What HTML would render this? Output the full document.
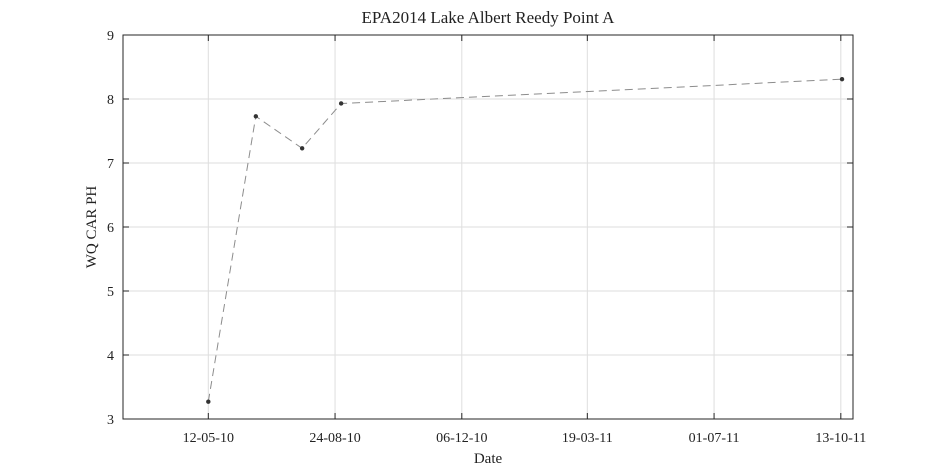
<!DOCTYPE html>
<html><head><meta charset="utf-8">
<style>
html,body{margin:0;padding:0;background:#fff;}
svg{display:block;font-family:"Liberation Serif","DejaVu Serif",serif;}
</style></head>
<body>
<svg id="chart" width="945" height="472" viewBox="0 0 945 472">
  <text x="488" y="23" text-anchor="middle" font-size="17" fill="#222">EPA2014 Lake Albert Reedy Point A</text>
  <text x="0" y="0" transform="translate(96,227) rotate(-90)" text-anchor="middle" font-size="15" fill="#222">WQ CAR PH</text>
  <text x="488" y="463" text-anchor="middle" font-size="15" fill="#222">Date</text>
  <g id="grid"></g>
  <g id="ticks"></g>
  <g id="series"></g>
  <rect x="123" y="35" width="730" height="384" fill="none" stroke="#262626" stroke-width="1"/>
</svg>
<script>
const dates = ["2010-05-12","2010-06-20","2010-07-28","2010-08-29","2011-10-14"];
const phValues = [3.27, 7.73, 7.23, 7.93, 8.31];
const yTicks = [3,4,5,6,7,8,9];
const xTickDates = ["2010-05-12","2010-08-24","2010-12-06","2011-03-19","2011-07-01","2011-10-13"];
const xTickLabels = ["12-05-10","24-08-10","06-12-10","19-03-11","01-07-11","13-10-11"];

const L=123,R=853,T=35,B=419;
const xMin=Date.parse("2010-03-03"), xMax=Date.parse("2011-10-23");
const yMin=3,yMax=9;
const NS="http://www.w3.org/2000/svg";
function xs(d){return L+(Date.parse(d)-xMin)/(xMax-xMin)*(R-L);}
function ys(v){return B-(v-yMin)/(yMax-yMin)*(B-T);}
function mk(tag,attrs,parent){const e=document.createElementNS(NS,tag);for(const k in attrs)e.setAttribute(k,attrs[k]);parent.appendChild(e);return e;}
const grid=document.getElementById('grid'),ticks=document.getElementById('ticks'),series=document.getElementById('series');

yTicks.forEach(v=>{
  const y=ys(v);
  if(v>yMin&&v<yMax){
    const g=mk('line',{x1:L,x2:R,y1:y,y2:y,stroke:'#dedede','stroke-width':1},grid);
    
    
  }
  const t1=mk('line',{x1:L,x2:L+6,y1:y,y2:y,stroke:'#262626'},ticks);
  
  
  const t2=mk('line',{x1:R-6,x2:R,y1:y,y2:y,stroke:'#262626'},ticks);
  
  
  const lb=mk('text',{x:L-9,y:y+5,'text-anchor':'end','font-size':14,fill:'#222'},ticks);
  lb.textContent=v;
  
  
});
xTickDates.forEach((d,i)=>{
  const x=xs(d);
  const g=mk('line',{x1:x,x2:x,y1:T,y2:B,stroke:'#dedede','stroke-width':1},grid);
  
  
  const t1=mk('line',{x1:x,x2:x,y1:B-6,y2:B,stroke:'#262626'},ticks);
  
  
  const t2=mk('line',{x1:x,x2:x,y1:T,y2:T+6,stroke:'#262626'},ticks);
  
  
  const lb=mk('text',{x:x,y:B+23,'text-anchor':'middle','font-size':14,fill:'#222'},ticks);
  lb.textContent=xTickLabels[i];
  
  
});
const pts=dates.map((d,i)=>xs(d).toFixed(1)+','+ys(phValues[i]).toFixed(1)).join(' ');
const line=mk('polyline',{points:pts,fill:'none',stroke:'#8c8c8c','stroke-width':1,'stroke-dasharray':'8,5'},series);


dates.forEach((d,i)=>{
  const c=mk('circle',{cx:xs(d),cy:ys(phValues[i]),r:2.2,fill:'#333'},series);
  
  
});
</script>
</body></html>
